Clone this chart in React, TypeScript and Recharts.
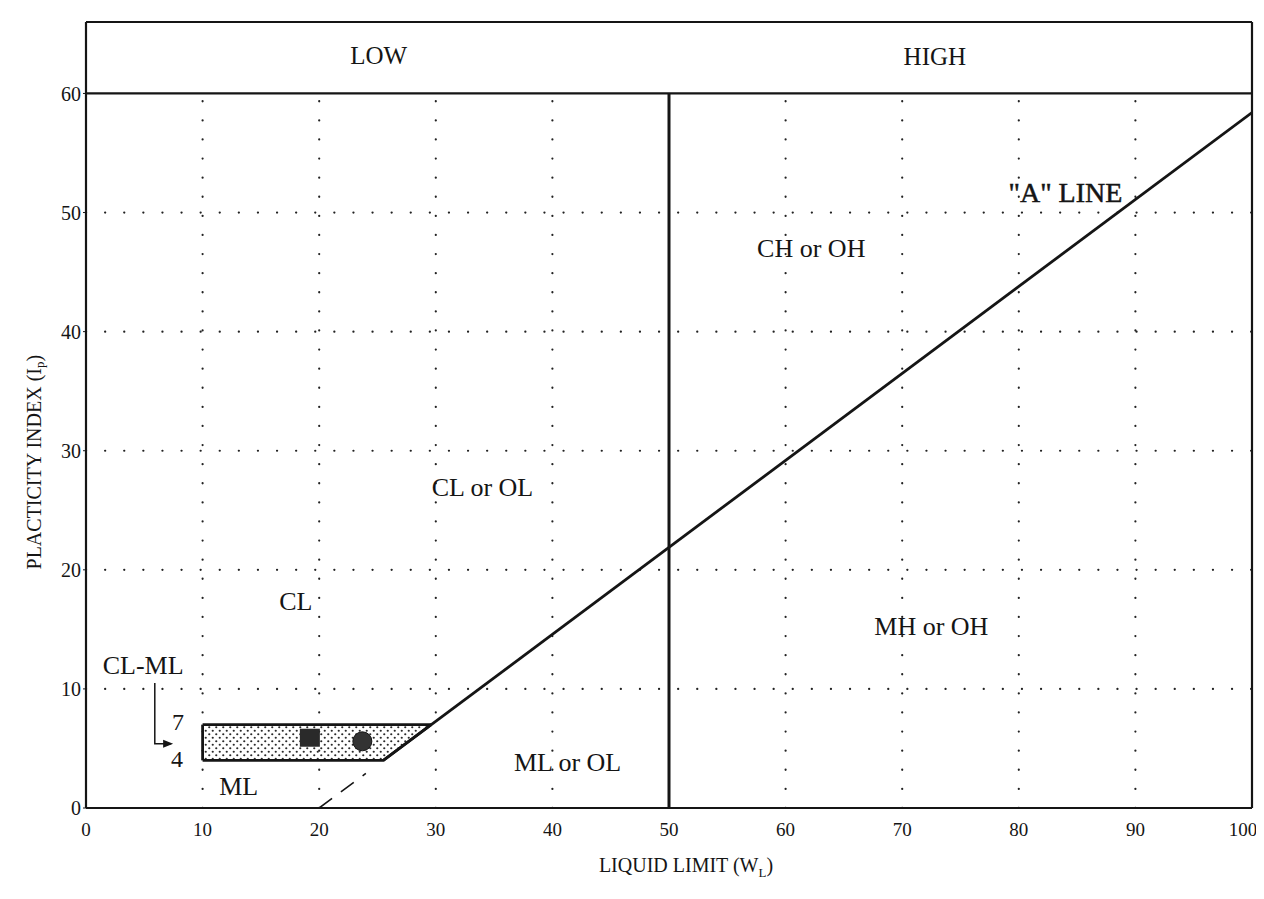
import React from "react";
import {
  Area,
  ComposedChart,
  Label,
  Line,
  ReferenceDot,
  ReferenceLine,
  Scatter,
  XAxis,
  YAxis,
} from "recharts";

// axis ticks
const xTicks = [0, 10, 20, 30, 40, 50, 60, 70, 80, 90, 100];
const yTicks = [0, 10, 20, 30, 40, 50, 60];

// dotted grid positions
const gridX = [10, 20, 30, 40, 60, 70, 80, 90];
const gridY = [10, 20, 30, 40, 50];

// "A" line: Ip = 0.73 (WL - 20)
const aLineSolid = [
  { ll: 25.5, pi: 4 },
  { ll: 100, pi: 58.4 },
];
const aLineDashed = [
  { ll: 20, pi: 0 },
  { ll: 24, pi: 2.9 },
];

// CL-ML zone (Ip between 4 and 7, left of the A line)
const clmlZone = [
  { ll: 10, band: [4, 7] },
  { ll: 25.5, band: [4, 7] },
  { ll: 29.6, band: [7, 7] },
];
const clmlLeftEdge = [
  { ll: 10, pi: 4 },
  { ll: 10, pi: 7 },
];

const squareSample = [{ ll: 19.2, pi: 5.9 }];
const circleSample = [{ ll: 23.7, pi: 5.6 }];

const zoneLabels = [
  { text: "CL or OL", ll: 34, pi: 26.9 },
  { text: "CL", ll: 18, pi: 17.3 },
  { text: "ML", ll: 13.1, pi: 1.8 },
  { text: "ML or OL", ll: 41.3, pi: 3.8 },
  { text: "CH or OH", ll: 62.2, pi: 47 },
  { text: "MH or OH", ll: 72.5, pi: 15.2 },
  { text: "CL-ML", ll: 4.9, pi: 12 },
  { text: "7", ll: 7.9, pi: 7.2 },
  { text: "4", ll: 7.8, pi: 4.1 },
];
const bandLabels = [
  { text: "LOW", ll: 25.1, pi: 63.2 },
  { text: "HIGH", ll: 72.8, pi: 63.1 },
];
const aLineLabel = { text: '"A" LINE', ll: 84, pi: 51.7 };

const arrowPath = [
  { ll: 5.9, pi: 10.5 },
  { ll: 5.9, pi: 5.4 },
  { ll: 7.3, pi: 5.4 },
];

const INK = "#151515";
const FONT = "'Liberation Serif', 'Times New Roman', serif";

const textShape = (text: string, size: number, bold = false) => (p: any) => (
  <text
    x={p.cx}
    y={p.cy}
    textAnchor="middle"
    dominantBaseline="central"
    fontFamily={FONT}
    fontSize={size}
    fill={INK}
    stroke={bold ? INK : "none"}
    strokeWidth={bold ? 0.5 : 0}
  >
    {text}
  </text>
);

const arrowHead = (p: any) => (
  <path
    d={`M${p.cx + 2},${p.cy} L${p.cx - 8},${p.cy - 4} L${p.cx - 8},${p.cy + 4} Z`}
    fill={INK}
  />
);

const XTick = (p: any) => {
  const v = p.payload.value;
  const shift = v === 100 ? -9 : 0;
  return (
    <text
      x={p.x + shift}
      y={p.y + 6}
      textAnchor="middle"
      dominantBaseline="hanging"
      fontFamily={FONT}
      fontSize={19}
      fill={INK}
    >
      {v}
    </text>
  );
};

const XTitle = (props: any) => {
  const vb = props.viewBox;
  return (
    <text
      x={vb.x + vb.width / 2 + 17}
      y={vb.y + vb.height + 24}
      textAnchor="middle"
      fontFamily={FONT}
      fontSize={20}
      fill={INK}
    >
      LIQUID LIMIT (W
      <tspan fontSize={13} dy={5}>
        L
      </tspan>
      <tspan dy={-5}>)</tspan>
    </text>
  );
};

const YTitle = (props: any) => {
  const vb = props.viewBox;
  const x = vb.x - 24;
  const y = vb.y + vb.height * 0.56;
  return (
    <text
      x={x}
      y={y}
      transform={`rotate(-90, ${x}, ${y})`}
      textAnchor="middle"
      dominantBaseline="central"
      fontFamily={FONT}
      fontSize={20}
      fill={INK}
    >
      PLACTICITY INDEX (I
      <tspan fontSize={13} dy={5}>
        p
      </tspan>
      <tspan dy={-5}>)</tspan>
    </text>
  );
};

const dotted = {
  stroke: "#222",
  strokeWidth: 2.2,
  strokeDasharray: "0.1 19",
  strokeLinecap: "round" as const,
};

export default function App() {
  return (
    <div style={{ width: 1256, height: 880, background: "#fff" }}>
      <ComposedChart
        width={1256}
        height={880}
        margin={{ top: 14, right: 12, left: 50, bottom: 40 }}
      >
        <defs>
          <pattern id="stipple" width="7" height="7" patternUnits="userSpaceOnUse">
            <rect width="7" height="7" fill="#fff" />
            <circle cx="1.75" cy="1.75" r="1.1" fill="#2a2a2a" />
            <circle cx="5.25" cy="5.25" r="1.1" fill="#2a2a2a" />
          </pattern>
        </defs>
        <XAxis
          type="number"
          dataKey="ll"
          domain={[0, 100]}
          ticks={xTicks}
          allowDataOverflow
          height={40}
          axisLine={{ stroke: INK, strokeWidth: 2.2 }}
          tickLine={false}
          tick={<XTick />}
          label={<Label content={XTitle} />}
        />
        <YAxis
          type="number"
          dataKey="pi"
          domain={[0, 66]}
          ticks={yTicks}
          allowDataOverflow
          width={28}
          axisLine={{ stroke: INK, strokeWidth: 2.2 }}
          tickLine={{ stroke: INK }}
          tickSize={3}
          tick={{ fill: INK, fontSize: 20, fontFamily: FONT }}
          label={<Label content={YTitle} />}
        />

        {gridX.map((v) => (
          <ReferenceLine
            key={`gx${v}`}
            segment={[
              { x: v, y: 0 },
              { x: v, y: 60 },
            ]}
            {...dotted}
          />
        ))}
        {gridY.map((v) => (
          <ReferenceLine
            key={`gy${v}`}
            segment={[
              { x: 0, y: v },
              { x: 100, y: v },
            ]}
            {...dotted}
          />
        ))}

        <ReferenceLine y={60} stroke={INK} strokeWidth={2.2} />
        <ReferenceLine y={66} stroke={INK} strokeWidth={2.2} />
        <ReferenceLine x={100} stroke={INK} strokeWidth={2.2} />
        <ReferenceLine
          segment={[
            { x: 50, y: 0 },
            { x: 50, y: 60 },
          ]}
          stroke={INK}
          strokeWidth={3}
        />

        <Area
          data={clmlZone}
          dataKey="band"
          type="linear"
          fill="url(#stipple)"
          fillOpacity={1}
          stroke={INK}
          strokeWidth={2.8}
          isAnimationActive={false}
          activeDot={false}
        />
        <Line
          data={clmlLeftEdge}
          dataKey="pi"
          type="linear"
          stroke={INK}
          strokeWidth={2.8}
          dot={false}
          activeDot={false}
          isAnimationActive={false}
        />
        <Line
          data={aLineSolid}
          dataKey="pi"
          type="linear"
          stroke={INK}
          strokeWidth={2.8}
          dot={false}
          activeDot={false}
          isAnimationActive={false}
        />
        <Line
          data={aLineDashed}
          dataKey="pi"
          type="linear"
          stroke={INK}
          strokeWidth={1.6}
          strokeDasharray="16 11"
          dot={false}
          activeDot={false}
          isAnimationActive={false}
        />
        <Line
          data={arrowPath}
          dataKey="pi"
          type="linear"
          stroke={INK}
          strokeWidth={1.5}
          dot={false}
          activeDot={false}
          isAnimationActive={false}
        />
        <ReferenceDot
          x={arrowPath[2].ll}
          y={arrowPath[2].pi}
          r={0}
          shape={arrowHead}
        />

        <Scatter
          data={squareSample}
          dataKey="pi"
          isAnimationActive={false}
          shape={(p: any) => (
            <rect x={p.cx - 10} y={p.cy - 9} width={20} height={18} fill="#2a2a2a" />
          )}
        />
        <Scatter
          data={circleSample}
          dataKey="pi"
          isAnimationActive={false}
          shape={(p: any) => <circle cx={p.cx} cy={p.cy} r={9.5} fill="#333" stroke={INK} />}
        />

        {zoneLabels.map((l) => (
          <ReferenceDot
            key={l.text}
            x={l.ll}
            y={l.pi}
            r={0}
            shape={textShape(l.text, l.text.length === 1 ? 24 : 26)}
          />
        ))}
        {bandLabels.map((l) => (
          <ReferenceDot key={l.text} x={l.ll} y={l.pi} r={0} shape={textShape(l.text, 25)} />
        ))}
        <ReferenceDot
          x={aLineLabel.ll}
          y={aLineLabel.pi}
          r={0}
          shape={textShape(aLineLabel.text, 28, true)}
        />
      </ComposedChart>
    </div>
  );
}
